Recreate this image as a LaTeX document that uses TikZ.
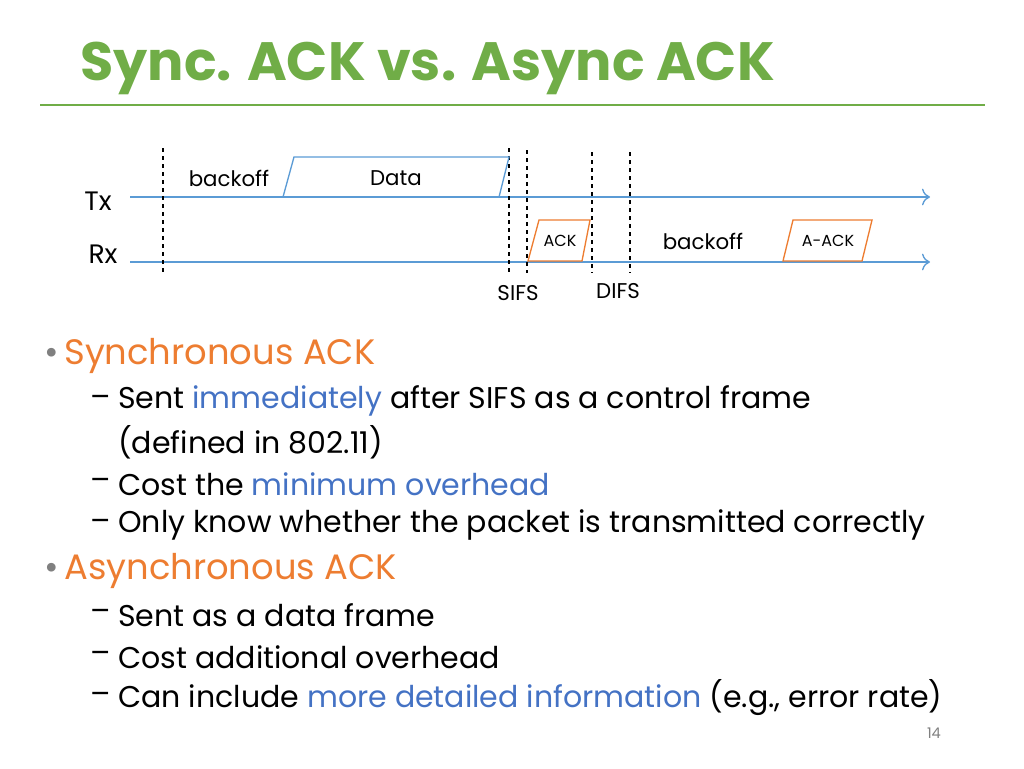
\documentclass[tikz,border=0pt]{standalone}
\usepackage{fontspec}
\usetikzlibrary{arrows.meta}
\setmainfont{Poppins}
\definecolor{tgreen}{RGB}{112,173,71}
\definecolor{torange}{RGB}{237,125,49}
\definecolor{tblue}{RGB}{68,114,196}
\definecolor{lblue}{RGB}{91,155,213}
\begin{document}
\begin{tikzpicture}[x=0.75pt,y=-0.75pt,
  dsh/.style={dashed,line width=0.8pt},
  axis/.style={lblue,line width=1pt,-{To[length=6pt]}},
  lbl/.style={inner sep=0pt,font=\fontsize{16}{18}\selectfont},
  sub/.style={anchor=west,inner sep=0pt,font=\fontsize{22.5}{26}\selectfont},
  bul/.style={anchor=west,inner sep=0pt,font=\fontsize{26.5}{30}\selectfont,torange}]
\useasboundingbox (0,0) rectangle (1024,768);
\node[anchor=west,inner sep=0pt,tgreen,font=\fontsize{40.5}{46}\selectfont\bfseries] (title) at (80,68) {Sync. ACK vs. Async ACK};
\draw[tgreen,line width=2.2pt] (40,105) -- (985,105);
% axes
\coordinate (tx0) at (130,197); \coordinate (tx1) at (930,197);
\coordinate (rx0) at (130,262); \coordinate (rx1) at (930,262);
\draw[axis] (tx0) -- (tx1);
\draw[axis] (rx0) -- (rx1);
\node[lbl,font=\fontsize{20}{24}\selectfont] (tx) at (98,201) {Tx};
\node[lbl,font=\fontsize{20}{24}\selectfont] (rx) at (103,254) {Rx};
% dashed
\foreach \x/\t/\b in {163/148/273,509/148/273,527/150/273,592/152/273,630/152/273}
  \draw[dsh] (\x,\t) -- (\x,\b);
% frames
\draw[lblue,line width=1pt] (283,197) -- (294,157) -- (509,157) -- (499,197);
\draw[torange,line width=1pt] (528,261) -- (539,220) -- (590,220) -- (582,261) -- cycle;
\draw[torange,line width=1pt] (783,261) -- (793,220) -- (872,220) -- (862,261) -- cycle;
\node[lbl] (bo1) at (229,178) {backoff};
\node[lbl] (data) at (396,178) {Data};
\node[lbl,font=\fontsize{12}{14}\selectfont] (ack) at (560,241) {ACK};
\node[lbl] (bo2) at (703,241) {backoff};
\node[lbl,font=\fontsize{12}{14}\selectfont] (aack) at (828,241) {A-ACK};
\node[lbl] (sifs) at (518,293) {SIFS};
\node[lbl] (difs) at (618,291) {DIFS};
% bullets
\node[bul,text=gray] (b1d) at (44,356) {\textbullet};
\node[bul] (b1) at (64,356) {Synchronous ACK};
\node[sub] (s1d) at (90,401) {\textendash};
\node[sub] (s1) at (118,401) {Sent \textcolor{tblue}{immediately} after SIFS as a control frame};
\node[sub] (s1b) at (118,442) {(defined in 802.11)};
\node[sub] (s2d) at (90,484) {\textendash};
\node[sub] (s2) at (118,484) {Cost the \textcolor{tblue}{minimum overhead}};
\node[sub] (s3d) at (90,525) {\textendash};
\node[sub] (s3) at (118,525) {Only know whether the packet is transmitted correctly};
\node[bul,text=gray] (b2d) at (44,571) {\textbullet};
\node[bul] (b2) at (64,571) {Asynchronous ACK};
\node[sub] (t1d) at (90,615) {\textendash};
\node[sub] (t1) at (118,615) {Sent as a data frame};
\node[sub] (t2d) at (90,657) {\textendash};
\node[sub] (t2) at (118,657) {Cost additional overhead};
\node[sub] (t3d) at (90,698) {\textendash};
\node[sub] (t3) at (118,698) {Can include \textcolor{tblue}{more detailed information} (e.g., error rate)};
\node[lbl,gray,font=\fontsize{11}{13}\selectfont] (pg) at (934,733) {14};
\end{tikzpicture}
\end{document}
